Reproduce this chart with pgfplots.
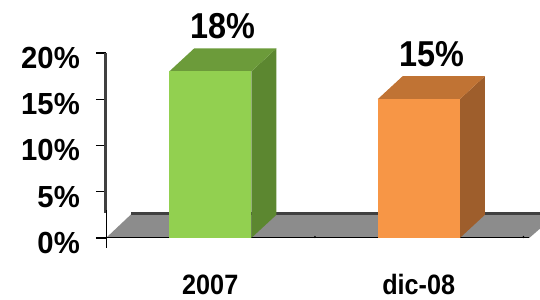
\documentclass[border=0pt]{standalone}
\usepackage{fontspec}
\setmainfont{Liberation Sans}[FakeStretch=0.9]
\newfontfamily\tickfont{Liberation Sans}[FakeStretch=0.96]
\usepackage{pgfplots}
\pgfplotsset{compat=1.18}
\definecolor{gfront}{RGB}{146,208,80}
\definecolor{gtop}{RGB}{108,155,58}
\definecolor{gside}{RGB}{92,135,48}
\definecolor{ofront}{RGB}{247,150,70}
\definecolor{otop}{RGB}{192,115,52}
\definecolor{oside}{RGB}{158,94,44}
\definecolor{floorgray}{RGB}{140,140,140}
\definecolor{edgegray}{RGB}{64,64,64}
\begin{document}
\begin{tikzpicture}
\path[use as bounding box] (0,0) rectangle (540bp,300bp);
\begin{axis}[
  at={(106bp,62bp)}, anchor=south west,
  scale only axis, width=417bp, height=185bp,
  xmin=0, xmax=2, ymin=0, ymax=20,
  clip=false,
  axis line style={draw=none},
  ytick pos=left, xtick pos=bottom,
  ytick={0,5,10,15,20}, yticklabels={0\%,5\%,10\%,15\%,20\%},
  xtick={0.5,1.5}, xticklabels={2007,dic-08},
  tick align=outside, major tick length=10bp,
  ytick style={draw=black, line width=1.2bp},
  xtick style={draw=none},
  yticklabel style={font=\tickfont\bfseries\fontsize{30.5bp}{32bp}\selectfont, anchor=east, inner sep=0pt, xshift=-16bp, yshift=-5bp},
  xticklabel style={font=\bfseries\fontsize{28bp}{30bp}\selectfont, anchor=base, inner sep=0pt, yshift=-46bp},
  nodes near coords={\pgfmathprintnumber[assume math mode=true]{\pgfplotspointmeta}\%},
  every node near coord/.append style={font=\bfseries\fontsize{36bp}{38bp}\selectfont, anchor=base, inner sep=0pt, yshift=33bp, xshift=13bp, text=black},
]
% floor
\addplot[fill=floorgray, draw=none, nodes near coords={}] coordinates {(0,0) (2.03,0) (2.16,2.55) (0.12,2.55)} -- cycle;
\addplot[draw=edgegray, line width=3bp, nodes near coords={}] coordinates {(0.12,2.7) (2.3,2.7)};
% front axis line
\addplot[draw=black, line width=1bp, nodes near coords={}] coordinates {(0,0) (2.03,0)};
% y axis wall line
\addplot[draw=edgegray, line width=3bp, nodes near coords={}] coordinates {(-0.003,2.7) (-0.003,20)};
\addplot[draw=black, line width=1bp, nodes near coords={}] coordinates {(0,3) (0,-1.08)};
% bar 2007
\addplot[fill=gside, draw=none, nodes near coords={}] coordinates {(0.697,0) (0.817,2.5) (0.817,20.5) (0.697,18)} -- cycle;
\addplot[fill=gtop, draw=none, nodes near coords={}] coordinates {(0.303,18) (0.697,18) (0.817,20.5) (0.423,20.5)} -- cycle;
\addplot[ybar, bar width=0.394, bar shift=0, fill=gfront, draw=none] coordinates {(0.5,18)};
% bar dic-08
\addplot[fill=oside, draw=none, nodes near coords={}] coordinates {(1.697,0) (1.817,2.5) (1.817,17.5) (1.697,15)} -- cycle;
\addplot[fill=otop, draw=none, nodes near coords={}] coordinates {(1.303,15) (1.697,15) (1.817,17.5) (1.423,17.5)} -- cycle;
\addplot[ybar, bar width=0.394, bar shift=0, fill=ofront, draw=none] coordinates {(1.5,15)};
% x ticks
\draw[black, line width=1.2bp] (axis cs:1,0) -- ++(0,-8bp);
\draw[black, line width=1.2bp] (axis cs:2,0) -- ++(0,-8bp);
\end{axis}
\end{tikzpicture}
\end{document}
